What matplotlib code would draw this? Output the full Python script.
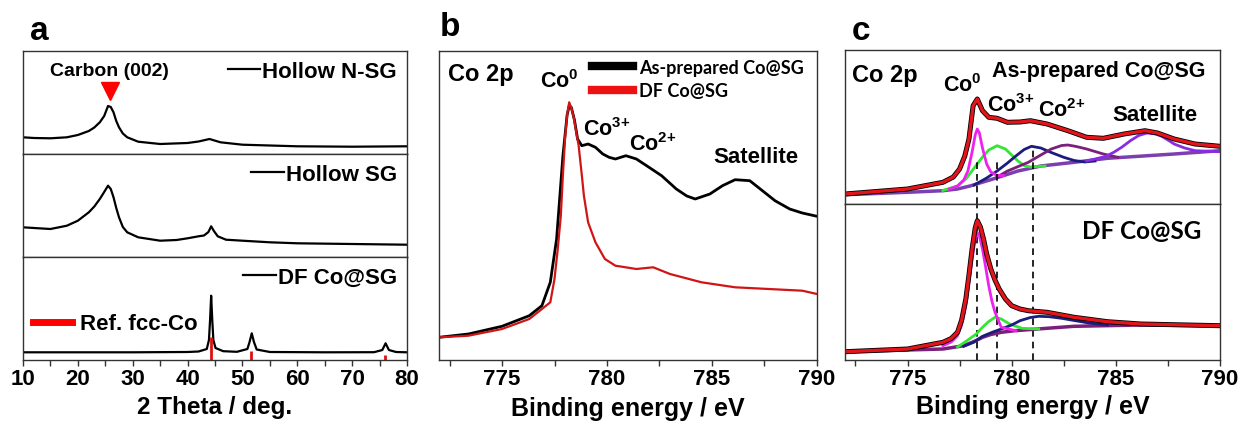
import numpy as np
import matplotlib.pyplot as plt
from matplotlib.ticker import MultipleLocator
from matplotlib.lines import Line2D

plt.rcParams['font.family'] = ['Liberation Sans', 'DejaVu Sans']
plt.rcParams['font.weight'] = 'bold'
plt.rcParams['mathtext.default'] = 'regular'

# ---------------- panel a : XRD (intensity in a.u.) ----------------
nsg_x = [10, 12, 15, 18, 20, 22, 23, 24, 24.8, 25.5, 26, 26.5, 27, 27.5, 28.2, 29, 31, 35, 40, 42, 44, 46, 50, 55, 60, 70, 80]
nsg_y = [16.7, 16, 15.7, 16.7, 19, 23, 26.5, 31.7, 38, 48, 47, 41.7, 33, 26.7, 20.5, 16.7, 12.3, 10, 11, 12.5, 15, 11.7, 9.3, 8.5, 7.7, 7.3, 7.7]

sg_x = [10, 12, 15, 18, 20, 22, 23, 24, 24.8, 25.5, 26, 26.5, 27, 27.5, 28.2, 29, 31, 35, 38, 40, 42, 43, 43.8, 44.3, 44.8, 45.5, 47, 50, 55, 60, 70, 80]
sg_y = [29.7, 29, 28, 31.3, 36.3, 44.7, 50.5, 58, 65, 71.3, 68, 59.7, 49, 39.7, 30, 24.7, 19.7, 16.3, 17, 18.7, 20.7, 21.5, 25, 30.7, 26, 20.7, 17.3, 16.3, 14.7, 13.7, 13, 12.3]

dfx_x = [10, 20, 30, 40, 42, 43.5, 43.9, 44.1, 44.3, 44.5, 44.7, 45.1, 46.5, 49, 50.9, 51.3, 51.7, 52.1, 52.6, 55, 65, 74, 75.5, 76.1, 76.7, 78, 80]
dfx_y = [7.7, 7.7, 7.7, 8.0, 8.5, 11, 20, 40, 64.3, 40, 20, 12, 8.8, 8.2, 11, 18, 26.7, 18, 10.5, 8, 7.7, 7.8, 10, 16.7, 10, 8, 7.7]

ref_x = [44.2, 51.5, 75.9]
ref_h = [22.7, 8.7, 5.3]
carbon_peak = 25.8

xrd_names = ['Hollow N-SG', 'Hollow SG', 'DF Co@SG']

# ---------------- panel b : XPS Co 2p ----------------
asp_x = [772.0, 773.4, 775.0, 776.3, 776.9, 777.3, 777.6, 777.9, 778.1, 778.2, 778.3, 778.45, 778.6, 778.8, 779.1, 779.45,
         779.8, 780.1, 780.4, 780.9, 781.4, 782.0, 782.6, 783.3, 783.8, 784.2, 784.9, 785.5, 786.1, 786.8, 787.4, 788.0,
         788.7, 789.3, 790.0]
asp_y = [22.7, 26, 33.7, 44.3, 54.3, 77.7, 121, 204, 245, 254.3, 252.7, 240, 221, 214.3, 216, 212.7,
         206, 202.7, 201, 204.3, 201, 192.7, 184.3, 171, 164, 161, 166, 174.3, 180.3, 179.3, 169.3, 159.3,
         151, 147, 143.7]

df_x = [772.0, 773.4, 775.0, 776.3, 776.9, 777.3, 777.5, 777.65, 777.8, 777.9, 778.0, 778.1, 778.2, 778.3, 778.4,
        778.5, 778.65, 778.8, 778.9, 779.1, 779.45, 779.9, 780.4, 781.4, 782.2, 783.0, 784.5, 786.1, 787.7, 789.3, 790.0]
df_y = [22.7, 24.3, 31, 41, 51, 57.7, 81, 110, 144, 185, 221, 245, 257.7, 252, 244.3, 232, 214.3, 185, 164.3, 137.7,
        117.7, 101, 94.3, 91, 92.7, 86, 77.7, 72.7, 71, 69.3, 66]

# ---------------- panel c : fitted Co 2p ----------------
# as-prepared
t_env_x = [772.0, 775.0, 776.7, 777.2, 777.5, 777.75, 777.95, 778.15, 778.35, 778.6, 778.9, 779.3, 779.8, 780.4, 780.9,
           781.7, 782.7, 783.6, 784.4, 785.4, 786.4, 787.0, 787.8, 788.8, 790.0]
t_env_y = [10, 15, 21.7, 27, 35, 48, 65, 98.3, 105, 93.3, 86.7, 85.7, 81.7, 82, 83.3,
           80, 73.3, 66.7, 65.7, 70, 73.3, 71, 65, 60, 57.7]
t_bg_x = [772.0, 775.0, 776.7, 777.4, 778.0, 779.1, 780.3, 781.4, 783.0, 784.6, 787.8, 790.0]
t_bg_y = [9.3, 11.7, 13.3, 15, 18, 25, 33, 38, 41.7, 45.7, 50, 53.3]
t_co0_x = [777.0, 777.4, 777.7, 777.9, 778.1, 778.25, 778.35, 778.45, 778.6, 778.8, 779.0, 779.3, 779.6]
t_co0_y = [15, 18, 24, 33, 52, 69, 75, 71, 56, 40, 32, 28.5, 28.5]
t_co3_x = [776.7, 777.4, 777.8, 778.2, 778.6, 778.9, 779.3, 779.7, 780.0, 780.3, 780.6, 780.9, 781.6]
t_co3_y = [13.5, 18, 25, 36, 47, 54, 58.3, 55, 49, 43, 38.5, 37, 38]
t_co2_x = [778.2, 778.8, 779.3, 779.8, 780.2, 780.6, 780.95, 781.4, 781.9, 782.5, 783.0, 783.5, 784.0]
t_co2_y = [19, 26, 33, 41, 48, 54.5, 57.7, 56, 51.5, 46.7, 43.5, 42, 43]
t_sat1_x = [779.3, 779.8, 780.8, 781.4, 781.9, 782.4, 782.7, 783.1, 783.6, 784.0, 784.4, 785.1]
t_sat1_y = [27, 33, 41.7, 49, 55, 58.5, 59, 57.5, 55, 52.5, 50, 46.7]
t_sat2_x = [783.6, 784.0, 784.5, 784.9, 785.3, 785.7, 786.1, 786.5, 786.9, 787.2, 787.5, 787.8, 788.3, 788.8, 790.0]
t_sat2_y = [43, 45, 47.5, 51.7, 57, 63.3, 68.5, 71, 70, 67.7, 64, 60, 56, 53.3, 52.3]

# DF
b_env_x = [772.0, 775.0, 776.7, 777.1, 777.4, 777.6, 777.8, 777.95, 778.1, 778.25, 778.35, 778.5, 778.65, 778.8, 779.0,
           779.2, 779.4, 779.7, 780.0, 780.4, 780.8, 781.7, 783.0, 784.6, 786.2, 790.0]
b_env_y = [8.3, 11, 17.7, 21.5, 27.7, 40, 61, 85, 111, 132, 139.3, 133, 121, 106, 91,
           80, 71, 61, 54.3, 51, 49.3, 47.7, 42.7, 38.3, 36, 34.3]
b_bg_x = [772.0, 776.7, 777.7, 778.2, 778.6, 779.0, 779.5, 780.1, 780.8, 782.0, 783.0, 786.2, 790.0]
b_bg_y = [8.3, 11, 14.3, 18.5, 22.7, 25.5, 27.7, 29.2, 30.3, 32.2, 33.7, 35, 34.3]
b_co0_x = [776.7, 777.1, 777.4, 777.6, 777.8, 777.95, 778.1, 778.25, 778.35, 778.45, 778.6, 778.75, 778.9, 779.05,
           779.2, 779.5, 780.2]
b_co0_y = [14.3, 18, 24.3, 35, 54.3, 78, 101, 121, 127.7, 124, 111, 93, 74.3, 59, 47.7, 32.7, 29.3]
b_co3_x = [777.4, 777.9, 778.3, 778.6, 778.9, 779.2, 779.5, 779.9, 780.5, 781.3]
b_co3_y = [13, 20, 26, 32.7, 38.5, 42.7, 41, 36, 31.7, 31]
b_co2_x = [777.7, 778.2, 778.6, 779.1, 779.5, 780.0, 780.4, 780.9, 781.3, 781.8, 782.4, 783.0, 783.7, 784.6]
b_co2_y = [13.7, 18, 23.7, 28, 31, 35, 39.3, 42.5, 43.7, 43.3, 41.7, 39.5, 37, 35]

states = [778.35, 779.3, 781.0]
state_top = [45, 42, 55]

W, H = 1243, 427
fig = plt.figure(figsize=(W / 100, H / 100), dpi=100)


def box(l, t, r, b):
    return [l / W, (H - b) / H, (r - l) / W, (b - t) / H]


def style(ax, ticks=True):
    for s in ax.spines.values():
        s.set_color('#333333')
        s.set_linewidth(1.0)
    ax.set_yticks([])
    if ticks:
        ax.tick_params(axis='x', which='both', direction='out', length=4, width=1, color='#333333',
                       labelsize=16, pad=2)
    else:
        ax.tick_params(axis='x', which='both', bottom=False, labelbottom=False)


# ---- panel a ----
tops = [52, 155, 258, 361]
xrd_data = [(nsg_x, nsg_y), (sg_x, sg_y), (dfx_x, dfx_y)]
axa = []
for i in range(3):
    ax = fig.add_axes(box(23, tops[i], 407, tops[i + 1]))
    ax.plot(xrd_data[i][0], xrd_data[i][1], color='black', lw=1.6, label=xrd_names[i])
    ax.set_xlim(10, 80)
    ax.set_ylim(0, tops[i + 1] - tops[i])
    style(ax, ticks=(i == 2))
    ax.xaxis.set_major_locator(MultipleLocator(10))
    ax.xaxis.set_minor_locator(MultipleLocator(5))
    ax.legend(loc='upper right', frameon=False, fontsize=16, handlelength=1.45,
              handletextpad=0.1, borderaxespad=0.15, borderpad=0.3)
    axa.append(ax)

axa[0].plot([carbon_peak], [63], marker='v', color='red', markersize=13, ls='none')
axa[0].text(14.9, 83, 'Carbon (002)', fontsize=14, va='center', ha='left')
bot = axa[2]
bot.vlines(ref_x, 0, ref_h, color='#e01010', lw=2)
bot.add_artist(bot.get_legend())
bot.legend(handles=[Line2D([], [], color='red', lw=5)], labels=['Ref. fcc-Co'], loc='center left',
           bbox_to_anchor=(0.0, 0.35), frameon=False, fontsize=16, handlelength=1.75, handletextpad=0.36,
           borderaxespad=0, borderpad=0.45)
bot.set_xlabel('2 Theta / deg.', fontsize=17.5, fontweight='bold')
bot.xaxis.set_label_coords(0.5, -0.34)
fig.text(30 / W, 1 - 31 / H, 'a', fontsize=24, fontweight='bold', va='center')

# ---- panel b ----
axb = fig.add_axes(box(439, 52, 817, 361))
axb.plot(asp_x, asp_y, color='black', lw=2, label='As-prepared Co@SG')
axb.plot(df_x, df_y, color='#d01515', lw=1.6, label='DF Co@SG')
axb.set_xlim(772, 790)
axb.set_ylim(0, 309)
style(axb)
axb.xaxis.set_major_locator(MultipleLocator(5))
axb.xaxis.set_minor_locator(MultipleLocator(2.5))
axb.legend(handles=[Line2D([], [], color='black', lw=6), Line2D([], [], color='#ee1111', lw=6)],
           labels=['As-prepared Co@SG', 'DF Co@SG'], loc='upper left', bbox_to_anchor=(0.405, 0.975),
           frameon=False, handlelength=2.25, handletextpad=0.35, borderaxespad=0, borderpad=0,
           labelspacing=0.35, prop={'family': 'Lato', 'weight': 'bold', 'size': 13})
trb = axb.get_xaxis_transform()
axb.text(772.43, 0.926, 'Co 2p', transform=trb, fontsize=17, va='center')
axb.text(776.8, 0.905, r'Co$^{0}$', transform=trb, fontsize=15.5, va='center')
axb.text(778.86, 0.748, r'Co$^{3{+}}$', transform=trb, fontsize=15.5, va='center')
axb.text(781.05, 0.699, r'Co$^{2{+}}$', transform=trb, fontsize=15.5, va='center')
axb.text(785.05, 0.657, 'Satellite', transform=trb, fontsize=16, va='center')
axb.set_xlabel('Binding energy / eV', fontsize=18, fontweight='bold')
axb.xaxis.set_label_coords(0.5, -0.115)
fig.text(440 / W, 1 - 27 / H, 'b', fontsize=24, fontweight='bold', va='center')

# ---- panel c ----
col = {'co0': '#ee22ee', 'co3': '#33e633', 'co2': '#1c1c7c', 'sat1': '#7a1f7a', 'sat2': '#8a2be2',
       'bg': '#7b3fb0', 'env': '#e3141a'}
axc1 = fig.add_axes(box(845, 51, 1220, 205))
axc2 = fig.add_axes(box(845, 205, 1220, 361))
for ax, ymax in [(axc1, 154), (axc2, 156)]:
    ax.set_xlim(772, 790)
    ax.set_ylim(0, ymax)
    ax.xaxis.set_major_locator(MultipleLocator(5))
    ax.xaxis.set_minor_locator(MultipleLocator(2.5))

axc1.plot(t_bg_x, t_bg_y, color=col['bg'], lw=2.5)
axc1.plot(t_co3_x, t_co3_y, color=col['co3'], lw=2)
axc1.plot(t_co2_x, t_co2_y, color=col['co2'], lw=2)
axc1.plot(t_sat1_x, t_sat1_y, color=col['sat1'], lw=2)
axc1.plot(t_sat2_x, t_sat2_y, color=col['sat2'], lw=2)
axc1.plot(t_co0_x, t_co0_y, color=col['co0'], lw=2)
axc1.plot(t_env_x, t_env_y, color='black', lw=3.6)
axc1.plot(t_env_x, t_env_y, color=col['env'], lw=2.4)
for s, h in zip(states, state_top):
    axc1.axvline(s, 0, h / 154, color='black', ls='--', lw=1.2, dashes=(4, 3))
    axc2.axvline(s, 0, 1, color='black', ls='--', lw=1.2, dashes=(4, 3))
style(axc1, ticks=False)

axc2.plot(b_bg_x, b_bg_y, color=col['sat1'], lw=2.5)
axc2.plot(b_co3_x, b_co3_y, color=col['co3'], lw=2)
axc2.plot(b_co2_x, b_co2_y, color=col['co2'], lw=2)
axc2.plot(b_co0_x, b_co0_y, color=col['co0'], lw=2)
axc2.plot(b_env_x, b_env_y, color='black', lw=3.6)
axc2.plot(b_env_x, b_env_y, color=col['env'], lw=2.4)
style(axc2)

tr = axc1.get_xaxis_transform()
axc1.text(772.34, 0.844, 'Co 2p', transform=tr, fontsize=17, va='center')
axc1.text(776.7, 0.775, r'Co$^{0}$', transform=tr, fontsize=15.5, va='center')
axc1.text(779.06, 0.864, 'As-prepared Co@SG', transform=tr, fontsize=15.5, va='center')
axc1.text(778.82, 0.645, r'Co$^{3{+}}$', transform=tr, fontsize=15.5, va='center')
axc1.text(781.27, 0.613, r'Co$^{2{+}}$', transform=tr, fontsize=15.5, va='center')
axc1.text(784.82, 0.584, 'Satellite', transform=tr, fontsize=16, va='center')
axc2.text(783.38, 0.827, 'DF Co@SG', transform=axc2.get_xaxis_transform(), fontsize=17.5, va='center',
          family='Lato', fontweight='bold')
axc2.set_xlabel('Binding energy / eV', fontsize=18, fontweight='bold')
axc2.xaxis.set_label_coords(0.5, -0.22)
fig.text(852 / W, 1 - 31 / H, 'c', fontsize=24, fontweight='bold', va='center')

fig.savefig('out.png', dpi=100)
